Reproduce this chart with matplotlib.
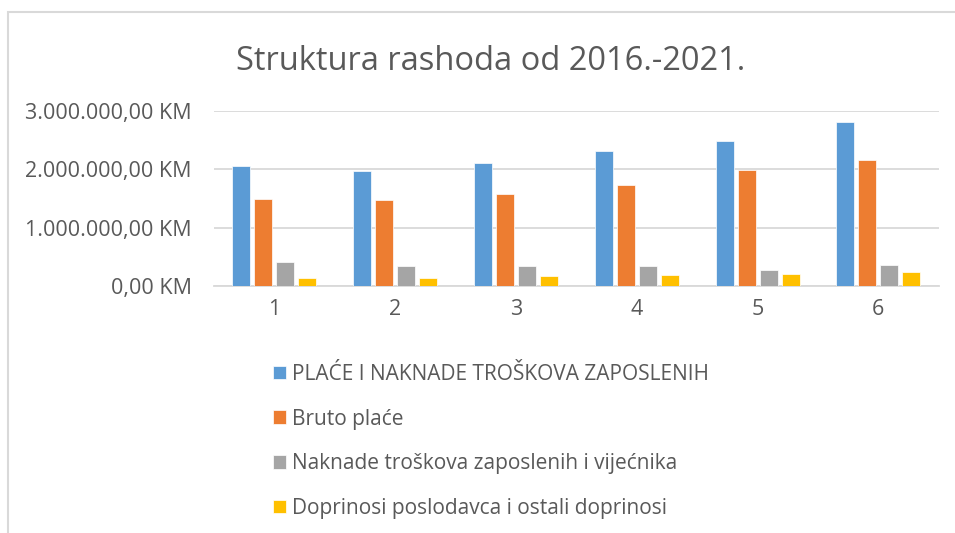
"""Struktura rashoda od 2016.-2021. - grouped bar chart."""

import matplotlib

matplotlib.use("Agg")
import matplotlib.pyplot as plt
import numpy as np
from matplotlib.patches import Rectangle
from matplotlib.ticker import FuncFormatter

categories = ["1", "2", "3", "4", "5", "6"]
series_names = [
    "PLAĆE I NAKNADE TROŠKOVA ZAPOSLENIH",
    "Bruto plaće",
    "Naknade troškova zaposlenih i vijećnika",
    "Doprinosi poslodavca i ostali doprinosi",
]
place_naknade = [2050000, 1970000, 2100000, 2320000, 2490000, 2800000]
bruto_place = [1490000, 1470000, 1570000, 1740000, 1990000, 2160000]
naknade_troskova = [410000, 350000, 350000, 350000, 280000, 370000]
doprinosi = [150000, 150000, 180000, 200000, 220000, 240000]
colors = ["#5b9bd5", "#ed7d31", "#a5a5a5", "#ffc000"]

plt.rcParams["font.family"] = ["Open Sans", "DejaVu Sans"]
TEXT = "#595959"
GRID = "#d9d9d9"


def km_format(v, _pos):
    whole = f"{int(round(v)):,}".replace(",", ".")
    return f"{whole},00 KM"


fig = plt.figure(figsize=(9.55, 5.33), dpi=100)
ax = fig.add_axes([0.224, 0.4625, 0.759, 0.3298])

# chart frame (clipped on the right and bottom like the screenshot)
fig.patches.append(Rectangle((8 / 955, -0.1), 1.2, 1 - 12 / 533 + 0.1,
                             transform=fig.transFigure, fill=False,
                             edgecolor=GRID, linewidth=1.5))

x = np.arange(len(categories))
width = 0.149
step = 0.182
all_series = [place_naknade, bruto_place, naknade_troskova, doprinosi]
for i, (vals, name, col) in enumerate(zip(all_series, series_names, colors)):
    ax.bar(x + (i - 1.5) * step, vals, width, color=col, label=name,
           edgecolor="white", linewidth=0.5, zorder=3)

ax.set_xlim(-0.5, len(categories) - 0.5)
ax.set_ylim(0, 3000000)
ax.set_yticks([0, 1000000, 2000000, 3000000])
ax.yaxis.set_major_formatter(FuncFormatter(km_format))
ax.set_xticks(x)
ax.set_xticklabels(categories)
ax.grid(axis="y", color=GRID, linewidth=1.3, zorder=0)
ax.tick_params(length=0, labelsize=15.5, labelcolor=TEXT)
ax.tick_params(axis="y", pad=16)
ax.tick_params(axis="x", pad=9)
for s in ax.spines.values():
    s.set_visible(False)
ax.spines["bottom"].set_visible(True)
ax.spines["bottom"].set_color(GRID)
ax.spines["bottom"].set_linewidth(1.3)

fig.text(0.514, 0.885, "Struktura rashoda od 2016.-2021.", ha="center",
         va="center", fontsize=23.5, color=TEXT)

leg = ax.legend(loc="upper left", bbox_to_anchor=(273 / 955, 1 - 364 / 533),
                bbox_transform=fig.transFigure, frameon=False, fontsize=15,
                handlelength=0.62, handleheight=0.62, handletextpad=0.3,
                labelspacing=1.13, borderpad=0, borderaxespad=0)
for t in leg.get_texts():
    t.set_color(TEXT)

fig.savefig("out.png", dpi=100)
